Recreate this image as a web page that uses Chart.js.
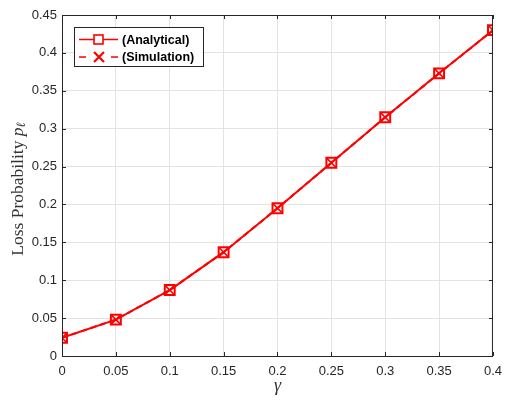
<!DOCTYPE html>
<html>
<head>
<meta charset="utf-8">
<script src="https://cdn.jsdelivr.net/npm/chart.js@4.4.1/dist/chart.umd.min.js"></script>
<style>
  html, body { margin: 0; padding: 0; background: #fff; }
  #wrap { width: 510px; height: 402px; }
</style>
</head>
<body>
<div id="wrap"><canvas id="lossChart" width="510" height="402"></canvas></div>
<script>
// data
const gammaValues = [0, 0.05, 0.1, 0.15, 0.2, 0.25, 0.3, 0.35, 0.4];
const analytical = [0.024, 0.048, 0.087, 0.137, 0.195, 0.255, 0.315, 0.373, 0.430];
const simulation = [0.024, 0.048, 0.087, 0.137, 0.195, 0.255, 0.315, 0.373, 0.430];
const xTicks = [0, 0.05, 0.1, 0.15, 0.2, 0.25, 0.3, 0.35, 0.4];
const yTicks = [0, 0.05, 0.1, 0.15, 0.2, 0.25, 0.3, 0.35, 0.4, 0.45];
const seriesNames = ["(Analytical)", "(Simulation)"];

const red = "#ff0000";
const axisColor = "#262626";
const tickFont = { family: "'Liberation Sans', Arial, sans-serif", size: 13 };
const serif = "'Liberation Serif', 'DejaVu Serif', serif";

const toPoints = (xs, ys) => xs.map((x, i) => ({ x: x, y: ys[i] }));

// frame, inward ticks, axis titles and legend box like MATLAB
const matlabFrame = {
  id: "matlabFrame",
  afterDraw(chart) {
    const ctx = chart.ctx;
    const a = chart.chartArea;
    const xs = chart.scales.x, ys = chart.scales.y;
    ctx.save();
    ctx.strokeStyle = axisColor;
    ctx.lineWidth = 1;
    ctx.strokeRect(a.left + 0.5, a.top + 0.5, a.right - a.left - 1, a.bottom - a.top);
    ctx.beginPath();
    xTicks.forEach(t => {
      const px = Math.round(xs.getPixelForValue(t)) + 0.5;
      ctx.moveTo(px, a.bottom); ctx.lineTo(px, a.bottom - 4);
      ctx.moveTo(px, a.top); ctx.lineTo(px, a.top + 4);
    });
    yTicks.forEach(t => {
      const py = Math.round(ys.getPixelForValue(t)) + 0.5;
      ctx.moveTo(a.left, py); ctx.lineTo(a.left + 4, py);
      ctx.moveTo(a.right, py); ctx.lineTo(a.right - 4, py);
    });
    ctx.stroke();

    // x title
    ctx.fillStyle = "#333";
    ctx.font = "italic 18px " + serif;
    ctx.textAlign = "center";
    ctx.textBaseline = "middle";
    ctx.fillText("\u03b3", (a.left + a.right) / 2, 386);

    // y title
    ctx.translate(18, 189);
    ctx.rotate(-Math.PI / 2);
    const main = "Loss Probability ";
    ctx.font = "17.5px " + serif;
    const w1 = ctx.measureText(main).width;
    ctx.font = "italic 17.5px " + serif;
    const w2 = ctx.measureText("p").width;
    ctx.font = "italic 12.5px " + serif;
    const w3 = ctx.measureText("\u2113").width;
    let x0 = -(w1 + w2 + w3) / 2;
    ctx.textAlign = "left";
    ctx.font = "17.5px " + serif;
    ctx.fillText(main, x0, 0);
    ctx.font = "italic 17.5px " + serif;
    ctx.fillText("p", x0 + w1, 0);
    ctx.font = "italic 12.5px " + serif;
    ctx.fillText("\u2113", x0 + w1 + w2, 4);
    ctx.restore();

    // legend
    ctx.save();
    const lx = 74, ly = 27, lw = 129, lh = 39;
    ctx.fillStyle = "#fff";
    ctx.fillRect(lx, ly, lw, lh);
    ctx.strokeStyle = axisColor;
    ctx.lineWidth = 1;
    ctx.strokeRect(lx + 0.5, ly + 0.5, lw, lh);
    ctx.strokeStyle = red;
    ctx.lineWidth = 1.6;
    const rows = [ly + 12.5, ly + 30];
    // analytical entry
    ctx.beginPath();
    ctx.moveTo(79, rows[0]); ctx.lineTo(118, rows[0]);
    ctx.stroke();
    ctx.fillStyle = "#fff";
    ctx.fillRect(94, rows[0] - 4.5, 9, 9);
    ctx.strokeRect(94, rows[0] - 4.5, 9, 9);
    // simulation entry: dash, cross, dash
    ctx.beginPath();
    ctx.moveTo(79, rows[1]); ctx.lineTo(86, rows[1]);
    ctx.moveTo(111, rows[1]); ctx.lineTo(118, rows[1]);
    ctx.stroke();
    ctx.lineWidth = 2.2;
    ctx.beginPath();
    ctx.moveTo(94, rows[1] - 5); ctx.lineTo(104, rows[1] + 5);
    ctx.moveTo(104, rows[1] - 5); ctx.lineTo(94, rows[1] + 5);
    ctx.stroke();
    ctx.fillStyle = "#000";
    ctx.font = "bold 12.5px 'Liberation Sans', Arial, sans-serif";
    ctx.textAlign = "left";
    ctx.textBaseline = "middle";
    ctx.fillText(seriesNames[0], 122, rows[0] + 1);
    ctx.fillText(seriesNames[1], 122, rows[1] + 1);
    ctx.restore();
  }
};

const lossCanvas = document.getElementById("lossChart");

let lossChart = new Chart(lossCanvas, {
  type: "line",
  data: {
    datasets: [{
      label: seriesNames[0],
      data: toPoints(gammaValues, analytical),
      borderColor: red,
      backgroundColor: "rgba(0,0,0,0)",
      borderWidth: 2,
      pointStyle: "rect",
      pointRadius: 7,
      pointBorderWidth: 2,
      pointBorderColor: red,
      pointBackgroundColor: "rgba(0,0,0,0)",
      tension: 0
    }, {
      label: seriesNames[1],
      data: toPoints(gammaValues, simulation),
      borderColor: red,
      borderDash: [6, 4],
      borderWidth: 2,
      pointStyle: "crossRot",
      pointRadius: 7,
      pointBorderWidth: 1.6,
      pointBorderColor: red,
      tension: 0
    }]
  },
  options: {
    responsive: false,
    animation: false,
    layout: { padding: { top: 15, right: 13, left: 0, bottom: 0 } },
    scales: {
      x: {
        type: "linear",
        min: 0,
        max: 0.4,
        afterBuildTicks: s => { s.ticks = xTicks.map(v => ({ value: v })); },
        afterFit: s => { s.height = 46; },
        grid: { color: "#e3e3e3", drawTicks: false },
        border: { display: false },
        ticks: {
          color: axisColor,
          font: tickFont,
          padding: 8,
          maxRotation: 0,
          callback: v => String(v)
        }
      },
      y: {
        min: 0,
        max: 0.45,
        afterBuildTicks: s => { s.ticks = yTicks.map(v => ({ value: v })); },
        afterFit: s => { s.width = 62; },
        grid: { color: "#e3e3e3", drawTicks: false },
        border: { display: false },
        ticks: {
          color: axisColor,
          font: tickFont,
          padding: 5,
          callback: v => String(v)
        }
      }
    },
    plugins: {
      legend: { display: false },
      tooltip: { enabled: false }
    }
  },
  plugins: [matlabFrame]
});
</script>
</body>
</html>
